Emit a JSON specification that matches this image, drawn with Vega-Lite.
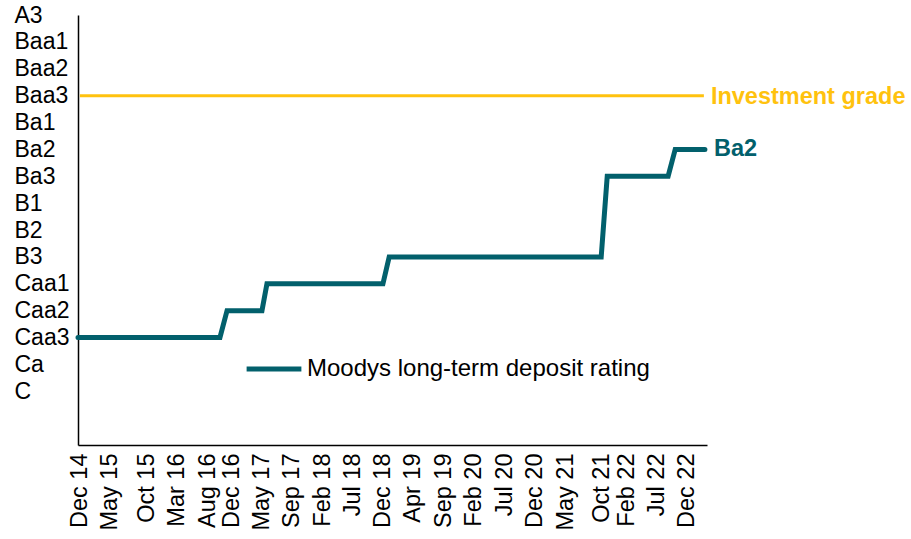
{
  "$schema": "https://vega.github.io/schema/vega-lite/v6.json",
  "autosize": {"type": "none"},
  "padding": {"left": 78, "top": 15, "right": 204, "bottom": 94},
  "width": 629,
  "height": 430,
  "background": "white",
  "config": {
    "view": {"stroke": null},
    "font": "Liberation Sans"
  },
  "datasets": {
    "rating": [
      {"date": "2014-12-01", "rating": "Caa3", "series": "Moodys long-term deposit rating"},
      {"date": "2016-10-14", "rating": "Caa3", "series": "Moodys long-term deposit rating"},
      {"date": "2016-11-17", "rating": "Caa2", "series": "Moodys long-term deposit rating"},
      {"date": "2017-05-04", "rating": "Caa2", "series": "Moodys long-term deposit rating"},
      {"date": "2017-05-28", "rating": "Caa1", "series": "Moodys long-term deposit rating"},
      {"date": "2018-12-07", "rating": "Caa1", "series": "Moodys long-term deposit rating"},
      {"date": "2019-01-06", "rating": "B3", "series": "Moodys long-term deposit rating"},
      {"date": "2021-10-22", "rating": "B3", "series": "Moodys long-term deposit rating"},
      {"date": "2021-11-20", "rating": "Ba3", "series": "Moodys long-term deposit rating"},
      {"date": "2022-09-09", "rating": "Ba3", "series": "Moodys long-term deposit rating"},
      {"date": "2022-10-13", "rating": "Ba2", "series": "Moodys long-term deposit rating"},
      {"date": "2023-03-05", "rating": "Ba2", "series": "Moodys long-term deposit rating"}
    ],
    "grade": [
      {"start": "2014-12-10", "end": "2023-02-28", "rating": "Baa3", "label": "Investment grade"}
    ],
    "endlabel": [
      {"date": "2023-03-05", "rating": "Ba2", "label": "Ba2"}
    ]
  },
  "layer": [
    {
      "data": {"name": "grade"},
      "mark": {"type": "rule", "color": "#FFC20E", "strokeWidth": 3},
      "encoding": {
        "x": {"field": "start", "type": "temporal"},
        "x2": {"field": "end"},
        "y": {"field": "rating", "type": "ordinal"}
      }
    },
    {
      "data": {"name": "grade"},
      "mark": {"type": "text", "color": "#FFC20E", "fontSize": 23.5, "fontWeight": "bold", "align": "left", "baseline": "middle", "dx": 7, "dy": 1},
      "encoding": {
        "x": {"field": "end", "type": "temporal"},
        "y": {"field": "rating", "type": "ordinal"},
        "text": {"field": "label"}
      }
    },
    {
      "data": {"name": "rating"},
      "mark": {"type": "line", "strokeWidth": 5, "strokeCap": "round", "strokeJoin": "miter", "interpolate": "linear"},
      "encoding": {
        "x": {
          "field": "date",
          "type": "temporal",
          "scale": {"domain": ["2014-12-01", "2023-03-15"]},
          "axis": {
            "title": null,
            "values": ["2014-12-07", "2015-05-01", "2015-10-25", "2016-03-19", "2016-08-13", "2016-12-07", "2017-05-01", "2017-09-25", "2018-02-17", "2018-07-13", "2018-12-07", "2019-04-30", "2019-09-25", "2020-02-18", "2020-07-13", "2020-12-07", "2021-05-01", "2021-10-25", "2022-02-19", "2022-07-13", "2022-12-07"],
            "tickCount": 40,
            "format": "%b %y",
            "labelAngle": -90,
            "labelAlign": "right",
            "labelBaseline": "middle",
            "labelFontSize": 23.5,
            "labelColor": "#000000",
            "labelPadding": 8,
            "labelOverlap": false,
            "labelFlush": false,
            "ticks": false,
            "tickSize": 0,
            "grid": false,
            "domainColor": "#000000",
            "domainWidth": 1.5
          }
        },
        "y": {
          "field": "rating",
          "type": "ordinal",
          "scale": {"type": "point", "padding": 0, "domain": ["A3", "Baa1", "Baa2", "Baa3", "Ba1", "Ba2", "Ba3", "B1", "B2", "B3", "Caa1", "Caa2", "Caa3", "Ca", "C", " ", "  "]},
          "axis": {
            "title": null,
            "labelAlign": "left",
            "labelBaseline": "middle",
            "labelFontSize": 23,
            "labelColor": "#000000",
            "labelPadding": 64,
            "labelOverlap": false,
            "ticks": false,
            "tickSize": 0,
            "grid": false,
            "domainColor": "#000000",
            "domainWidth": 1.5
          }
        },
        "color": {
          "field": "series",
          "type": "nominal",
          "scale": {"range": ["#02606C"]},
          "legend": {
            "title": null,
            "orient": "none",
            "legendX": 166,
            "legendY": 324,
            "symbolType": "stroke",
            "symbolSize": 3000,
            "symbolStrokeWidth": 5,
            "labelFontSize": 24,
            "labelColor": "#000000",
            "labelOffset": 3,
            "labelLimit": 600
          }
        }
      }
    },
    {
      "data": {"name": "endlabel"},
      "mark": {"type": "text", "color": "#02606C", "fontSize": 23.5, "fontWeight": "bold", "align": "left", "baseline": "middle", "dx": 9},
      "encoding": {
        "x": {"field": "date", "type": "temporal"},
        "y": {"field": "rating", "type": "ordinal"},
        "text": {"field": "label"}
      }
    }
  ]
}
